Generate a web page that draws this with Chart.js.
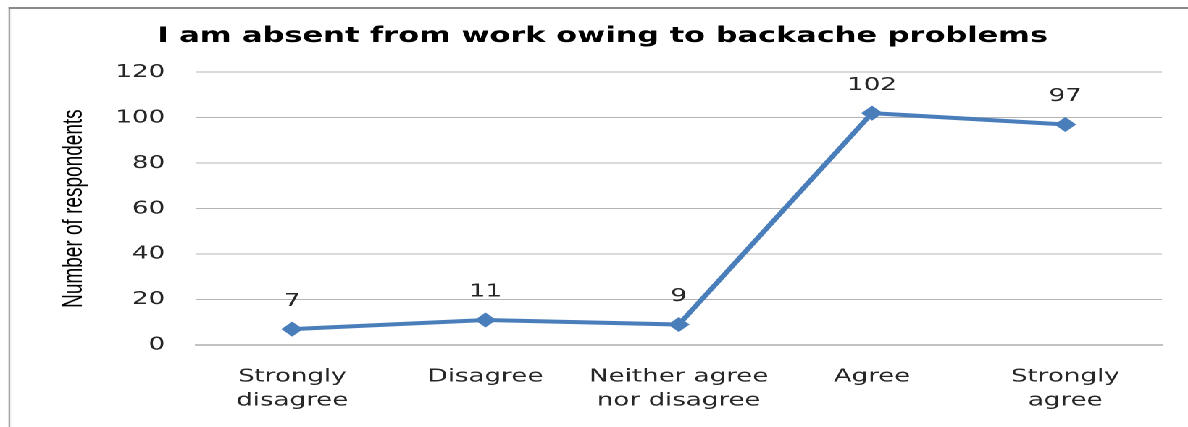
<!DOCTYPE html>
<html lang="en">
  <head>
    <meta charset="UTF-8" />
    <title>Absence due to backache</title>
    <script src="https://cdn.jsdelivr.net/npm/chart.js"></script>
    <style>
      html, body { margin: 0; padding: 0; background: #fff; overflow: hidden; }
      #stage {
        position: absolute; left: 0; top: 0;
        width: 820px; height: 427px;
        transform: scaleX(1.4488); transform-origin: 0 0;
      }
      #frame {
        position: absolute; left: 5.5px; top: 7px; right: -10px; bottom: -10px;
        border-left: 1.6px solid #8a8a8a; border-top: 2px solid #8a8a8a;
      }
      #myChart { position: absolute; left: 0; top: 0; }
    </style>
    <script>
      var answers = [
        ["Strongly", "disagree"],
        "Disagree",
        ["Neither agree", "nor disagree"],
        "Agree",
        ["Strongly", "agree"],
      ];
      var responses = [7, 11, 9, 102, 97];
      var yTicks = [0, 20, 40, 60, 80, 100, 120];
    </script>
  </head>
  <body>
    <div id="stage">
      <div id="frame"></div>
      <canvas id="myChart" width="820" height="427"></canvas>
    </div>
    <script>
      var textFont = "DejaVu Sans";
      var textColor = "#262626";

      // numbers written above each point
      var valueLabels = {
        id: "valueLabels",
        afterDatasetsDraw: function (chart) {
          var ctx = chart.ctx;
          var meta = chart.getDatasetMeta(0);
          ctx.save();
          ctx.font = "18px " + textFont;
          ctx.fillStyle = textColor;
          ctx.textAlign = "center";
          ctx.textBaseline = "middle";
          meta.data.forEach(function (pt, i) {
            ctx.fillText(String(responses[i]), pt.x, pt.y - 28);
          });
          ctx.restore();
        },
      };

      var ctx = document.getElementById("myChart").getContext("2d");
      var myChart = new Chart(ctx, {
        type: "line",
        data: {
          labels: answers,
          datasets: [
            {
              data: responses,
              borderColor: "#4a7ebb",
              backgroundColor: "#4a7ebb",
              borderWidth: 4,
              pointStyle: "rectRot",
              pointRadius: 7.5,
              pointBorderWidth: 0,
              fill: false,
              tension: 0,
            },
          ],
        },
        plugins: [valueLabels],
        options: {
          responsive: false,
          animation: false,
          devicePixelRatio: 2,
          layout: { padding: { left: 30, right: 18, top: 0, bottom: 0 } },
          plugins: {
            legend: { display: false },
            tooltip: { enabled: false },
            title: {
              display: true,
              text: "I am absent from work owing to backache problems",
              color: "#000",
              font: { family: "DejaVu Sans", size: 21, weight: "bold" },
              padding: { top: 24, bottom: 23 },
            },
          },
          scales: {
            x: {
              offset: true,
              afterFit: function (scale) { scale.height = 82; },
              grid: { display: false, drawTicks: false },
              border: { display: true, color: "#868686", width: 1 },
              ticks: {
                color: textColor,
                font: { family: textFont, size: 18, lineHeight: 1.33 },
                padding: 20,
                maxRotation: 0,
                autoSkip: false,
              },
            },
            y: {
              min: 0,
              max: 120,
              afterFit: function (scale) { scale.width = 105; },
              afterBuildTicks: function (scale) {
                scale.ticks = yTicks.map(function (v) { return { value: v }; });
              },
              grid: { color: "#b4b4b4", lineWidth: 1, drawTicks: false },
              border: { display: false },
              ticks: {
                color: textColor,
                font: { family: textFont, size: 18 },
                padding: 21,
              },
              title: {
                display: true,
                text: "Number of respondents",
                color: "#000",
                font: { family: "Liberation Sans Narrow, Liberation Sans", size: 19 },
                padding: { top: 10, bottom: 0 },
              },
            },
          },
        },
      });
    </script>
  </body>
</html>
